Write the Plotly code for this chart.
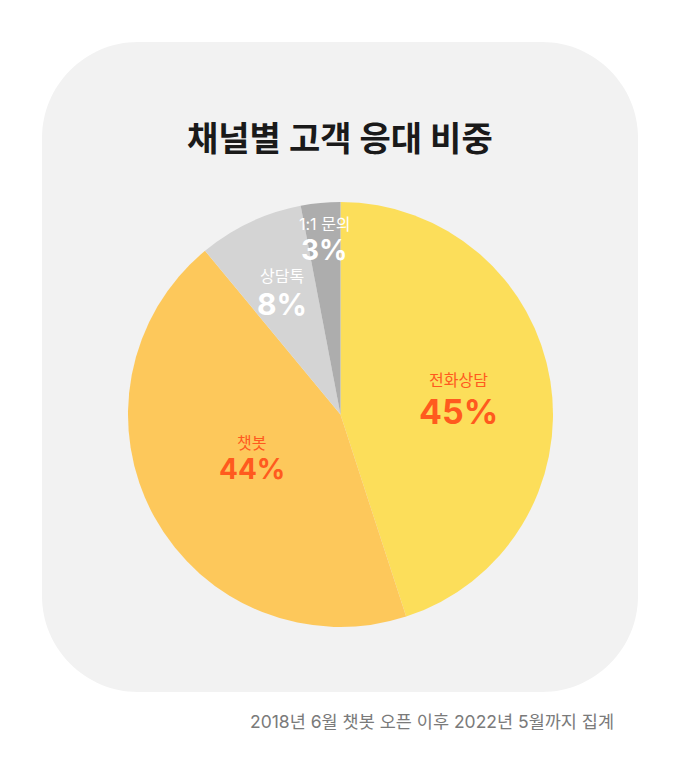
import numpy as np
import plotly.graph_objects as go

# Data
channels = ["전화상담", "챗봇", "상담톡", "1:1 문의"]
shares = [45, 44, 8, 3]
title_text = "채널별 고객 응대 비중"
footnote_text = "2018년 6월 챗봇 오픈 이후 2022년 5월까지 집계"

# Styling
slice_colors = ["#FCDE5A", "#FDC85B", "#D4D4D4", "#ADADAD"]
text_colors = ["#FF5A1E", "#FF5A1E", "#FFFFFF", "#FFFFFF"]
label_radius = [0.564, 0.46, 0.646, 0.839]  # fraction of pie radius
label_turn = [0, 3.7, 0, 0.4]                # degrees past slice middle
label_gap = [15.5, 13, 14, 13]               # px from group centre to each line
pct_size = [34, 28, 30, 28]
FONT = "Inter, Noto Sans CJK KR"
W, H = 678, 778
OFF = 8  # page body margin shifts the figure

# pie geometry in pixels (picture coords)
cx, cy, r = 340.5, 414.5, 212.5


def px_x(x):
    return (x - OFF) / W


def px_y(y):
    return 1 - (y - OFF) / H


fig = go.Figure(go.Pie(
    labels=channels,
    values=shares,
    sort=False,
    direction="clockwise",
    rotation=0,
    marker=dict(colors=slice_colors, line=dict(width=0)),
    textinfo="none",
    hoverinfo="label+percent",
    showlegend=False,
    domain=dict(x=[px_x(cx - r), px_x(cx + r)],
                y=[px_y(cy + r), px_y(cy - r)]),
))

# labels at slice mid-angles (clockwise from 12 o'clock)
total = sum(shares)
cum = np.cumsum([0] + shares[:-1])
for i, (name, v, c0) in enumerate(zip(channels, shares, cum)):
    ang = 2 * np.pi * (c0 + v / 2) / total + np.radians(label_turn[i])
    lx = cx + label_radius[i] * r * np.sin(ang)
    ly = cy - label_radius[i] * r * np.cos(ang)
    fig.add_annotation(
        x=px_x(lx), y=px_y(ly - label_gap[i]), xref="paper", yref="paper",
        xanchor="center", yanchor="middle",
        text=name, showarrow=False,
        font=dict(family=FONT, size=16, color=text_colors[i]),
    )
    fig.add_annotation(
        x=px_x(lx), y=px_y(ly + label_gap[i]), xref="paper", yref="paper",
        xanchor="center", yanchor="middle",
        text=f"<b>{round(100 * v / total)}%</b>", showarrow=False,
        font=dict(family=FONT, size=pct_size[i], color=text_colors[i]),
    )

# rounded card behind the pie, drawn in pixels from the top-left corner
x0, y0, x1, y1, rad = 42 - OFF, 42 - OFF, 638 - OFF, 692 - OFF, 96
k = 0.45
fig.add_shape(
    type="path",
    xref="paper", yref="paper",
    xsizemode="pixel", ysizemode="pixel",
    xanchor=0, yanchor=1,
    path=(
        f"M {x0 + rad} {-y0} L {x1 - rad} {-y0} "
        f"C {x1 - rad * k} {-y0} {x1} {-(y0 + rad * k)} {x1} {-(y0 + rad)} "
        f"L {x1} {-(y1 - rad)} "
        f"C {x1} {-(y1 - rad * k)} {x1 - rad * k} {-y1} {x1 - rad} {-y1} "
        f"L {x0 + rad} {-y1} "
        f"C {x0 + rad * k} {-y1} {x0} {-(y1 - rad * k)} {x0} {-(y1 - rad)} "
        f"L {x0} {-(y0 + rad)} "
        f"C {x0} {-(y0 + rad * k)} {x0 + rad * k} {-y0} {x0 + rad} {-y0} Z"
    ),
    fillcolor="#F2F2F2",
    line=dict(width=0),
    layer="below",
)

fig.add_annotation(
    x=px_x(340), y=px_y(139), xref="paper", yref="paper",
    xanchor="center", yanchor="middle",
    text=f"<b>{title_text}</b>", showarrow=False,
    font=dict(family=FONT, size=34, color="#1A1A1A"),
)
fig.add_annotation(
    x=px_x(616), y=px_y(721), xref="paper", yref="paper",
    xanchor="right", yanchor="middle",
    text=footnote_text, showarrow=False,
    font=dict(family=FONT, size=17.5, color="#7A7A7A"),
)

fig.update_layout(
    width=W, height=H,
    margin=dict(l=0, r=0, t=0, b=0),
    paper_bgcolor="white",
    plot_bgcolor="white",
)

fig.write_html("out.html")
